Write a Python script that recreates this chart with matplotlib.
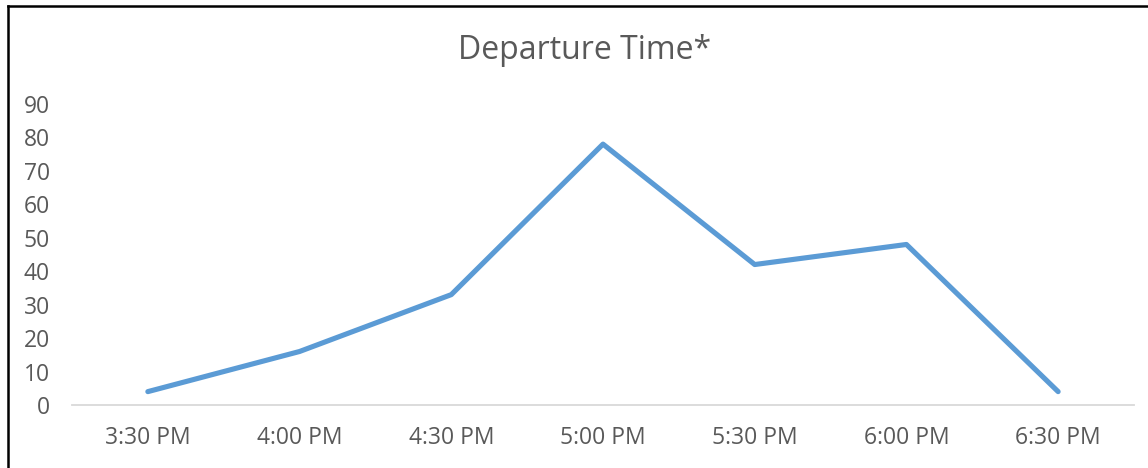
import matplotlib.pyplot as plt
from matplotlib.lines import Line2D

times = ['3:30 PM', '4:00 PM', '4:30 PM', '5:00 PM', '5:30 PM', '6:00 PM', '6:30 PM']
counts = [4, 16, 33, 78, 42, 48, 4]
y_ticks = [0, 10, 20, 30, 40, 50, 60, 70, 80, 90]

plt.rcParams['font.family'] = ['Open Sans', 'DejaVu Sans']
text_color = '#595959'

fig = plt.figure(figsize=(11.48, 4.68), dpi=100)
ax = fig.add_axes([0.0627, 0.1346, 0.9251, 0.6432])

x = list(range(len(times)))
ax.plot(x, counts, color='#5B9BD5', linewidth=3.7,
        solid_capstyle='round', solid_joinstyle='round')

ax.set_xlim(-0.5, len(times) - 0.5)
ax.set_ylim(0, 90)
ax.set_xticks(x)
ax.set_xticklabels(times)
ax.set_yticks(y_ticks)
ax.tick_params(axis='both', length=0, labelsize=16.5, colors=text_color)
ax.tick_params(axis='x', pad=15)
ax.tick_params(axis='y', pad=16)

for side in ['top', 'right', 'left']:
    ax.spines[side].set_visible(False)
ax.spines['bottom'].set_color('#D9D9D9')
ax.spines['bottom'].set_linewidth(1.3)

fig.text(0.5096, 0.893, 'Departure Time*', ha='center', va='center',
         fontsize=23, color=text_color)

# chart border (top and left edges visible in the crop)
fig.add_artist(Line2D([8 / 1148, 8 / 1148], [0, 1 - 6 / 468],
                      transform=fig.transFigure, color='black', linewidth=1.8))
fig.add_artist(Line2D([8 / 1148, 1], [1 - 6 / 468, 1 - 6 / 468],
                      transform=fig.transFigure, color='black', linewidth=1.8))

fig.savefig('out.png', dpi=100)
